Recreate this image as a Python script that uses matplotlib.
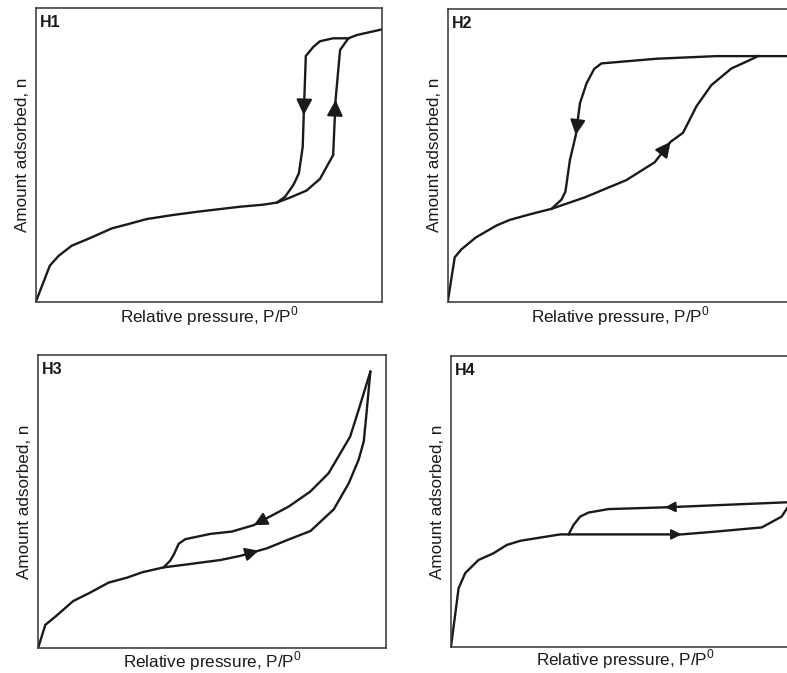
import numpy as np
import matplotlib.pyplot as plt

plt.rcParams['font.family'] = ['Liberation Sans', 'DejaVu Sans']
plt.rcParams['mathtext.fontset'] = 'custom'
plt.rcParams['mathtext.rm'] = 'Liberation Sans'

# Isotherm branches, x = P/P0, y = amount adsorbed (relative)
h1_ads_x = [0, 0.040, 0.065, 0.103, 0.156, 0.219, 0.267, 0.320, 0.397, 0.474, 0.532, 0.590,
            0.657, 0.696, 0.734, 0.782, 0.821, 0.859, 0.866, 0.879, 0.903, 0.927, 0.999]
h1_ads_y = [0, 0.122, 0.155, 0.190, 0.216, 0.249, 0.264, 0.281, 0.295, 0.307, 0.315, 0.323,
            0.330, 0.337, 0.354, 0.378, 0.418, 0.499, 0.687, 0.857, 0.897, 0.908, 0.927]
h1_des_x = [0.903, 0.859, 0.821, 0.802, 0.780, 0.774, 0.771, 0.760, 0.744, 0.720, 0.696]
h1_des_y = [0.897, 0.897, 0.887, 0.868, 0.837, 0.635, 0.527, 0.437, 0.397, 0.357, 0.337]

h2_ads_x = [0, 0.020, 0.039, 0.081, 0.141, 0.179, 0.237, 0.300, 0.396, 0.459, 0.516, 0.598,
            0.644, 0.680, 0.719, 0.762, 0.820, 0.863, 0.897]
h2_ads_y = [0, 0.151, 0.178, 0.219, 0.260, 0.279, 0.298, 0.317, 0.356, 0.387, 0.415, 0.476,
            0.546, 0.577, 0.668, 0.740, 0.797, 0.820, 0.839]
h2_des_x = [1.02, 0.776, 0.603, 0.444, 0.423, 0.401, 0.382, 0.370, 0.353, 0.340, 0.329, 0.300]
h2_des_y = [0.839, 0.839, 0.830, 0.814, 0.795, 0.746, 0.678, 0.569, 0.484, 0.376, 0.349, 0.317]

h3_ads_x = [0, 0.021, 0.050, 0.101, 0.150, 0.203, 0.256, 0.299, 0.361, 0.428, 0.524, 0.581,
            0.634, 0.658, 0.716, 0.783, 0.850, 0.893, 0.921, 0.936, 0.943, 0.955]
h3_ads_y = [0, 0.080, 0.108, 0.161, 0.190, 0.224, 0.241, 0.259, 0.276, 0.286, 0.301, 0.315,
            0.333, 0.341, 0.369, 0.400, 0.474, 0.563, 0.642, 0.705, 0.790, 0.943]
h3_des_x = [0.955, 0.921, 0.897, 0.835, 0.782, 0.720, 0.620, 0.557, 0.495, 0.423, 0.404,
            0.392, 0.380, 0.361]
h3_des_y = [0.943, 0.812, 0.722, 0.597, 0.534, 0.483, 0.420, 0.398, 0.390, 0.372, 0.356,
            0.324, 0.299, 0.276]

h4_ads_x = [0, 0.022, 0.041, 0.079, 0.122, 0.161, 0.199, 0.256, 0.314, 0.663, 0.764, 0.893,
            0.950, 0.966, 0.979]
h4_ads_y = [0, 0.202, 0.254, 0.299, 0.322, 0.351, 0.365, 0.376, 0.387, 0.387, 0.397, 0.411,
            0.448, 0.477, 0.498]
h4_des_x = [0.979, 0.615, 0.453, 0.395, 0.371, 0.352, 0.338]
h4_des_y = [0.498, 0.480, 0.474, 0.462, 0.448, 0.419, 0.387]

# name, axes rect, (branch, arrow index) x2, arrow size, xlabel pad
panels = [
    ('H1', [0.0457, 0.552, 0.4396, 0.436], (h1_ads_x, h1_ads_y, 18), (h1_des_x, h1_des_y, 5), 24, 2),
    ('H2', [0.569, 0.552, 0.4396, 0.4346], (h2_ads_x, h2_ads_y, 12), (h2_des_x, h2_des_y, 7), 23, 2),
    ('H3', [0.0483, 0.0367, 0.4422, 0.4358], (h3_ads_x, h3_ads_y, 12), (h3_des_x, h3_des_y, 6), 20, 0.5),
    ('H4', [0.573, 0.0386, 0.4422, 0.4324], (h4_ads_x, h4_ads_y, 9), (h4_des_x, h4_des_y, 1), 15, 0.5),
]


def add_arrow(ax, xs, ys, i, size):
    # arrow head at point i, pointing along the branch direction
    tip = np.array([xs[i], ys[i]])
    prev = np.array([xs[i - 1], ys[i - 1]])
    d = tip - prev
    tail = tip - d / np.hypot(*d) * 0.03
    ax.annotate('', xy=tip, xytext=tail,
                arrowprops=dict(arrowstyle='-|>', color='#1a1a1a', lw=1.5,
                                mutation_scale=size, shrinkA=0, shrinkB=0))


fig = plt.figure(figsize=(7.87, 6.73), dpi=100)

for name, rect, ads, des, asize, xpad in panels:
    ax = fig.add_axes(rect)
    for xs, ys, ai in (ads, des):
        ax.plot(xs, ys, color='#1a1a1a', lw=1.7, solid_joinstyle='miter')
        add_arrow(ax, xs, ys, ai, asize)
    ax.set_xlim(0, 1)
    ax.set_ylim(0, 1)
    ax.set_xticks([])
    ax.set_yticks([])
    for s in ax.spines.values():
        s.set_linewidth(1.1)
        s.set_color('#333333')
    ax.text(0.012, 0.975, name, transform=ax.transAxes, fontsize=11.5,
            fontweight='bold', va='top', ha='left', color='#1a1a1a')
    ax.set_xlabel('Relative pressure, P/P$^{\\mathrm{0}}$', fontsize=12.3,
                  labelpad=xpad, color='#1a1a1a')
    ax.set_ylabel('Amount adsorbed, n', fontsize=12.3, labelpad=4, color='#1a1a1a')

fig.savefig('out.png', dpi=100)
